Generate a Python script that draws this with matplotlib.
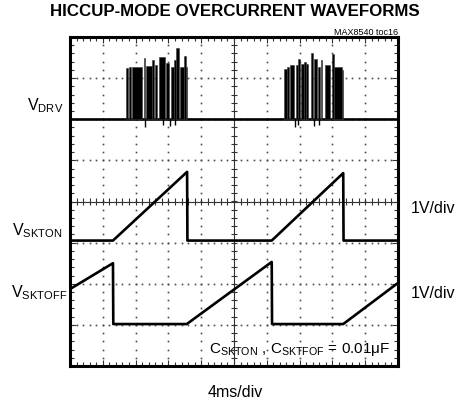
"""Hiccup-mode overcurrent scope capture (MAX8540 toc16)."""

import matplotlib
matplotlib.use("Agg")
import matplotlib.pyplot as plt
import numpy as np

FONT = "Liberation Sans"
plt.rcParams["font.family"] = [FONT, "DejaVu Sans"]
plt.rcParams["mathtext.fontset"] = "custom"
plt.rcParams["mathtext.rm"] = FONT
plt.rcParams["mathtext.it"] = FONT

# --- screen: 10 horizontal divisions x 8 vertical divisions ---
X_DIVS = 10
Y_DIVS = 8

# V_SKTON trace breakpoints (div)
skton_x = [0.0, 1.31, 3.57, 3.58, 6.15, 8.33, 8.34, 10.0]
skton_y = [-0.95, -0.95, 0.72, -0.95, -0.95, 0.69, -0.95, -0.95]

# V_SKTOFF trace breakpoints (div)
sktoff_x = [0.0, 1.31, 1.32, 3.56, 6.15, 6.16, 8.33, 10.0]
sktoff_y = [-2.13, -1.50, -2.98, -2.98, -1.47, -2.98, -2.98, -1.98]

# V_DRV idle level and switching bursts: (start, end, top) in div
drv_level = 2.0
drv_bars = [
    (1.71, 1.77, 3.24), (1.79, 1.85, 3.26), (1.89, 2.18, 3.26),
    (2.25, 2.30, 3.49), (2.31, 2.50, 3.29), (2.51, 2.57, 3.45),
    (2.59, 2.66, 3.33), (2.70, 2.90, 3.52), (2.92, 3.03, 3.37),
    (3.07, 3.17, 3.27), (3.18, 3.23, 3.45), (3.24, 3.31, 3.73),
    (3.35, 3.47, 3.26), (3.48, 3.54, 3.53), (3.54, 3.58, 3.26),
    (6.52, 6.61, 3.22), (6.63, 6.69, 3.27), (6.71, 6.83, 3.32),
    (6.89, 6.95, 3.32), (6.96, 7.01, 3.46), (7.03, 7.12, 3.35),
    (7.13, 7.18, 3.40), (7.19, 7.27, 3.35), (7.34, 7.42, 3.60),
    (7.43, 7.54, 3.46), (7.55, 7.63, 3.27), (7.64, 7.69, 3.43),
    (7.77, 7.93, 3.33), (7.98, 8.05, 3.58), (8.06, 8.28, 3.27),
    (8.28, 8.33, 3.19),
]
# small undershoots below the V_DRV idle level: (x, bottom)
drv_dips = [(2.30, 1.82), (2.85, 1.86), (3.05, 1.84), (3.20, 1.86),
            (6.85, 1.80), (6.95, 1.86), (7.45, 1.84), (7.60, 1.87)]

TRACE = "#000000"
GRID_DOT = "#4a4a4a"
LW = 1.9

fig = plt.figure(figsize=(4.58, 4.02), dpi=100)
ax = fig.add_axes([70 / 458, 35 / 402, 328 / 458, 329 / 402])
ax.set_xlim(0, X_DIVS)
ax.set_ylim(-Y_DIVS / 2, Y_DIVS / 2)

# dotted graticule
for gx in range(1, X_DIVS):
    if gx == X_DIVS // 2:
        continue
    gy = np.arange(-Y_DIVS / 2 + 0.2, Y_DIVS / 2, 0.2)
    ax.plot(np.full_like(gy, gx), gy, ls="none", marker="s", ms=1.2,
            mew=0, color=GRID_DOT, zorder=1)
for gy in range(-Y_DIVS // 2 + 1, Y_DIVS // 2):
    if gy == 0:
        continue
    gx = np.arange(0.2, X_DIVS, 0.2)
    ax.plot(gx, np.full_like(gx, gy), ls="none", marker="s", ms=1.2,
            mew=0, color=GRID_DOT, zorder=1)

# centre cross with tick marks
ax.axhline(0, color="#333333", lw=0.8, zorder=1)
ax.axvline(X_DIVS / 2, color="#333333", lw=0.8, zorder=1)
tx = np.arange(0.2, X_DIVS, 0.2)
ax.vlines(tx, -0.08, 0.08, color="#333333", lw=0.8, zorder=1)
ty = np.arange(-Y_DIVS / 2 + 0.2, Y_DIVS / 2, 0.2)
ax.hlines(ty, X_DIVS / 2 - 0.1, X_DIVS / 2 + 0.1, color="#333333", lw=0.8, zorder=1)

# frame ticks
ax.set_xticks(range(0, X_DIVS + 1))
ax.set_yticks(range(-Y_DIVS // 2, Y_DIVS // 2 + 1))
ax.set_xticks(np.arange(0, X_DIVS, 0.2), minor=True)
ax.set_yticks(np.arange(-Y_DIVS / 2, Y_DIVS / 2, 0.2), minor=True)
ax.tick_params(which="both", direction="in", top=True, right=True,
               labelbottom=False, labelleft=False, color="#333333")
ax.tick_params(which="major", length=4, width=0.8)
ax.tick_params(which="minor", length=3, width=0.8)
for spine in ax.spines.values():
    spine.set_linewidth(2.2)
    spine.set_zorder(5)

# V_DRV
ax.axhline(drv_level, color=TRACE, lw=LW, zorder=3)
starts = np.array([b[0] for b in drv_bars])
ends = np.array([b[1] for b in drv_bars])
tops = np.array([b[2] for b in drv_bars])
ax.bar(starts, tops - drv_level, width=ends - starts, bottom=drv_level,
       align="edge", color=TRACE, edgecolor="#3a3a3a", linewidth=0.4, zorder=3)
ax.vlines([d[0] for d in drv_dips], [d[1] for d in drv_dips], drv_level,
          color=TRACE, lw=1.0, zorder=3)

# V_SKTON / V_SKTOFF
ax.plot(skton_x, skton_y, color=TRACE, lw=LW, zorder=3)
ax.plot(sktoff_x, sktoff_y, color=TRACE, lw=LW, zorder=3)

# text
fig.text(235 / 458, 1 - 16.5 / 402, "HICCUP-MODE OVERCURRENT WAVEFORMS",
         ha="center", va="baseline", fontsize=12.2, fontweight="bold")
fig.text(398 / 458, 1 - 35 / 402, "MAX8540 toc16", ha="right", va="baseline",
         fontsize=6.5)

LABEL_FS = 11.5
fig.text(27 / 458, 1 - 110.5 / 402, r"$\mathrm{V}_{\mathrm{DRV}}$",
         ha="left", va="baseline", fontsize=LABEL_FS)
fig.text(12 / 458, 1 - 235 / 402, r"$\mathrm{V}_{\mathrm{SKTON}}$",
         ha="left", va="baseline", fontsize=LABEL_FS)
fig.text(11 / 458, 1 - 297.5 / 402, r"$\mathrm{V}_{\mathrm{SKTOFF}}$",
         ha="left", va="baseline", fontsize=LABEL_FS)
fig.text(411 / 458, 1 - 213.3 / 402, "1V/div", ha="left", va="baseline",
         fontsize=LABEL_FS)
fig.text(411 / 458, 1 - 297.5 / 402, "1V/div", ha="left", va="baseline",
         fontsize=LABEL_FS)
fig.text(390 / 458, 1 - 353.5 / 402,
         r"$\mathrm{C}_{\mathrm{SKTON}}$ , $\mathrm{C}_{\mathrm{SKTFOF}}$ = 0.01μF",
         ha="right", va="baseline", fontsize=11)
fig.text(235.5 / 458, 1 - 397 / 402, "4ms/div", ha="center", va="baseline",
         fontsize=LABEL_FS)

fig.savefig("out.png", dpi=100, facecolor="white")
